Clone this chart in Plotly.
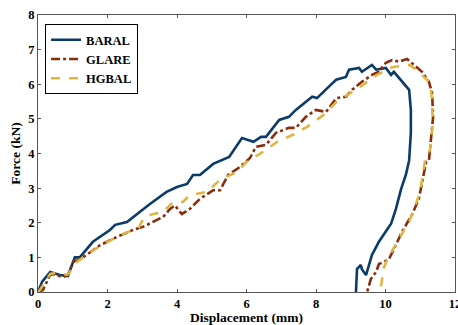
import plotly.graph_objects as go

# Force-displacement curves (displacement in mm, force in kN)
baral_x = [0.0, 0.12, 0.35, 0.63, 0.86, 1.06, 1.2, 1.58, 2.07, 2.22, 2.56, 2.85, 3.22, 3.7, 4.0,
           4.29, 4.46, 4.66, 5.04, 5.5, 5.87, 6.2, 6.42, 6.56, 6.94, 7.22, 7.42, 7.89, 8.03, 8.37,
           8.58, 8.86, 8.95, 9.24, 9.32, 9.61, 9.73, 10.01, 10.16, 10.24, 10.39, 10.59, 10.68,
           10.73, 10.73, 10.68, 10.59, 10.45, 10.3, 10.16, 10.01, 9.81, 9.61, 9.44, 9.32, 9.29,
           9.18, 9.15]
baral_y = [0.0, 0.3, 0.58, 0.49, 0.46, 1.0, 1.0, 1.45, 1.79, 1.94, 2.02, 2.25, 2.54, 2.89, 3.03,
           3.12, 3.38, 3.38, 3.7, 3.9, 4.45, 4.34, 4.48, 4.48, 4.97, 5.06, 5.26, 5.64, 5.6, 5.93,
           6.13, 6.21, 6.42, 6.47, 6.36, 6.56, 6.42, 6.47, 6.27, 6.36, 6.18, 5.93, 5.84,
           5.26, 4.6, 3.8, 3.4, 2.98, 2.4, 1.97, 1.73, 1.45, 1.07, 0.49, 0.66, 0.78,
           0.66, 0.0]

glare_x = [0.0, 0.14, 0.35, 0.43, 0.72, 0.86, 1.01, 1.21, 1.44, 1.78, 2.27, 2.73, 3.02, 3.42,
           3.6, 3.8, 3.94, 4.14, 4.37, 4.66, 5.04, 5.24, 5.47, 5.81, 6.1, 6.27, 6.56, 6.85, 7.22,
           7.42, 7.71, 8.0, 8.29, 8.58, 8.86, 9.04, 9.32, 9.61, 9.81, 10.01, 10.19, 10.39, 10.62,
           10.82, 11.05, 11.25, 11.34, 11.37, 11.31, 11.25, 11.17, 11.05, 10.96, 10.76, 10.47,
           10.3, 10.1, 9.96, 9.81, 9.73, 9.58, 9.47]
glare_y = [0.0, 0.06, 0.49, 0.52, 0.43, 0.49, 0.87, 0.95, 1.1, 1.35, 1.59, 1.79, 1.88, 2.08,
           2.17, 2.4, 2.5, 2.25, 2.4, 2.69, 2.94, 2.94, 3.38, 3.61, 3.87, 4.19, 4.25, 4.6, 4.74,
           4.74, 5.06, 5.26, 5.2, 5.6, 5.64, 5.84, 6.07, 6.27, 6.36, 6.62, 6.7, 6.65, 6.73,
           6.56, 6.36, 6.07, 5.75, 5.06, 4.39, 3.8, 3.76, 3.18, 2.69, 2.23, 1.73,
           1.36, 0.95, 0.87, 0.81, 0.58, 0.38, 0.0]

hgbal_x = [0.0, 0.05, 0.35, 0.5, 0.85, 1.12, 1.5, 2.0, 2.5, 2.9, 3.02, 3.1, 3.6, 3.89, 4.17,
           4.37, 4.86, 5.24, 5.73, 6.0, 6.4, 6.9, 7.34, 7.74, 8.2, 8.6, 9.0, 9.35, 9.75, 10.22,
           10.7, 10.99, 11.28, 11.34, 11.36, 11.28, 11.14, 10.99, 10.7, 10.42, 10.22, 10.04,
           9.93, 9.9, 9.84]
hgbal_y = [0.0, 0.05, 0.52, 0.55, 0.5, 0.87, 1.15, 1.45, 1.7, 1.85, 2.1, 2.2, 2.31, 2.6, 2.6,
           2.8, 2.89, 3.24, 3.47, 3.76, 4.0, 4.35, 4.54, 4.77, 5.1, 5.5, 5.75, 5.98, 6.27, 6.5,
           6.56, 6.33, 6.04, 5.55, 4.9, 4.1, 3.81, 2.86, 2.08, 1.59, 1.21, 0.92,
           0.64, 0.35, 0.0]

x_ticks = [0, 2, 4, 6, 8, 10, 12]
y_ticks = [0, 1, 2, 3, 4, 5, 6, 7, 8]

serif = "Liberation Serif, Times New Roman, serif"

fig = go.Figure()
fig.add_trace(go.Scatter(x=baral_x, y=baral_y, mode="lines", name="BARAL",
                         line=dict(color="#0b3b68", width=2.6)))
fig.add_trace(go.Scatter(x=glare_x, y=glare_y, mode="lines", name="GLARE",
                         line=dict(color="#8a2c0c", width=2.6, dash="dashdot")))
fig.add_trace(go.Scatter(x=hgbal_x, y=hgbal_y, mode="lines", name="HGBAL",
                         line=dict(color="#e0b443", width=2.6, dash="dash")))

axis_common = dict(
    showgrid=False, zeroline=False, showline=True, linecolor="#555555", linewidth=1,
    mirror="allticks", ticks="inside", ticklen=3, tickcolor="#555555",
    ticklabeloverflow="allow", automargin=False,
    tickfont=dict(family=serif, size=12.5, color="black", weight="bold"),
)

title_font = dict(family=serif, size=13.5, color="black", weight="bold")

fig.update_layout(
    width=458, height=325,
    margin=dict(l=38, r=3, t=15, b=33),
    paper_bgcolor="white", plot_bgcolor="white",
    xaxis=dict(range=[0, 12], tickvals=x_ticks,
               title=dict(text="Displacement (mm)", standoff=4, font=title_font),
               **axis_common),
    yaxis=dict(range=[0, 8], tickvals=y_ticks,
               title=dict(text="Force (kN)", standoff=4, font=title_font),
               **axis_common),
    legend=dict(x=0.017, y=0.967, xanchor="left", yanchor="top",
                bordercolor="black", borderwidth=1, bgcolor="white",
                font=dict(family=serif, size=12.5, color="black", weight="bold"),
                tracegroupgap=0, itemwidth=30),
    showlegend=True,
)

fig.write_html("out.html")
